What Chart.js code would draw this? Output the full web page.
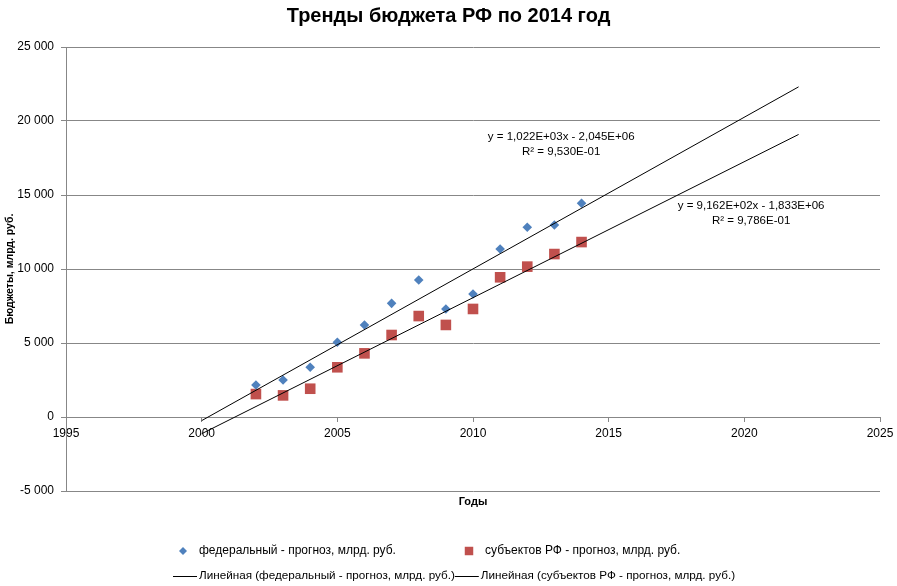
<!DOCTYPE html>
<html lang="ru">
<head>
<meta charset="utf-8">
<title>Тренды бюджета РФ по 2014 год</title>
<script src="https://cdn.jsdelivr.net/npm/chart.js@4/dist/chart.umd.min.js"></script>
<style>
  html, body { margin: 0; padding: 0; background: #fff; }
  #wrap { width: 897px; height: 586px; position: relative; }
</style>
</head>
<body>
<div id="wrap"><canvas id="budget-chart"></canvas></div>
<script>
// ---- data ----
const years = [2002, 2003, 2004, 2005, 2006, 2007, 2008, 2009, 2010, 2011, 2012, 2013, 2014];
const federal = [2160, 2500, 3360, 5050, 6220, 7680, 9260, 7300, 8310, 11350, 12820, 12970, 14440];
const regions = [1550, 1460, 1910, 3360, 4300, 5540, 6820, 6220, 7300, 9440, 10160, 11010, 11820];

const seriesNames = ['федеральный - прогноз, млрд. руб.', 'субъектов РФ - прогноз, млрд. руб.'];
const trendNames = ['Линейная (федеральный - прогноз, млрд. руб.)', 'Линейная (субъектов РФ - прогноз, млрд. руб.)'];

// trendline range (backward / forward forecast like in Excel)
const trendFrom = 2000;
const trendTo = 2022;

// equation labels and where they sit (in data units)
const eqText = [
  ['y = 1,022E+03x - 2,045E+06', 'R\u00B2 = 9,530E-01'],
  ['y = 9,162E+02x - 1,833E+06', 'R\u00B2 = 9,786E-01']
];
const eqAnchorX = [2013.25, 2020.25];
const eqAnchorY = [18920, 14260];

const xTicks = { min: 1995, max: 2025, step: 5 };
const yTicks = { min: -5000, max: 25000, step: 5000 };

const FONT = '"Liberation Sans", Arial, sans-serif';
const GRID = '#878787';

// ============================================
// helpers
// ============================================
function linearFit(xs, ys) {
  const n = xs.length;
  const mx = xs.reduce((a, b) => a + b, 0) / n;
  const my = ys.reduce((a, b) => a + b, 0) / n;
  let sxy = 0, sxx = 0;
  for (let i = 0; i < n; i++) {
    sxy += (xs[i] - mx) * (ys[i] - my);
    sxx += (xs[i] - mx) * (xs[i] - mx);
  }
  const k = sxy / sxx;
  return { k, b: my - k * mx };
}

function trendPoints(ys) {
  const f = linearFit(years, ys);
  return [trendFrom, trendTo].map(x => ({ x, y: f.k * x + f.b }));
}

function toPoints(ys) {
  return years.map((x, i) => ({ x, y: ys[i] }));
}

function fmtThousands(v) {
  const s = String(Math.abs(v)).replace(/\B(?=(\d{3})+(?!\d))/g, ' ');
  return (v < 0 ? '-' : '') + s;
}

// ============================================
// equation labels + excel-like legend
// ============================================
const extrasPlugin = {
  id: 'extras',
  afterDatasetsDraw(chart) {
    const { ctx, scales: { x, y } } = chart;
    ctx.save();
    ctx.font = '11.5px ' + FONT;
    ctx.fillStyle = '#000';
    ctx.textAlign = 'center';
    ctx.textBaseline = 'middle';
    eqText.forEach((lines, i) => {
      const px = x.getPixelForValue(eqAnchorX[i]);
      const py = y.getPixelForValue(eqAnchorY[i]);
      lines.forEach((t, j) => ctx.fillText(t, px, py + j * 15));
    });
    ctx.restore();
  },
  afterDraw(chart) {
    const { ctx } = chart;
    const ds = chart.data.datasets;
    const row1 = 551, row2 = 576;
    ctx.save();
    ctx.font = '12px ' + FONT;
    ctx.fillStyle = '#000';
    ctx.textAlign = 'left';
    ctx.textBaseline = 'middle';

    // markers row
    const markerX = [183, 469];
    const markerR = [4, 6];
    [0, 1].forEach(i => {
      ctx.fillStyle = ds[i].backgroundColor;
      ctx.strokeStyle = ds[i].borderColor;
      Chart.helpers.drawPoint(ctx, {
        pointStyle: ds[i].pointStyle, radius: markerR[i], rotation: 0, borderWidth: 0
      }, markerX[i], row1);
      ctx.fillStyle = '#000';
      ctx.fillText(ds[i].label, markerX[i] + 16, row1);
    });

    // trendline row (a touch tighter, like the original)
    ctx.font = '11.7px ' + FONT;
    let cx = 173;
    [2, 3].forEach(i => {
      ctx.strokeStyle = ds[i].borderColor;
      ctx.lineWidth = 1;
      ctx.beginPath();
      ctx.moveTo(cx, row2 + 0.5);
      ctx.lineTo(cx + 24, row2 + 0.5);
      ctx.stroke();
      ctx.fillText(ds[i].label, cx + 26, row2);
      cx += 26 + ctx.measureText(ds[i].label).width;
    });
    ctx.restore();
  }
};

// ============================================
// chart
// ============================================
Chart.defaults.font.family = FONT;
Chart.defaults.color = '#000';

new Chart(document.getElementById('budget-chart'), {
  type: 'scatter',
  data: {
    datasets: [
      {
        label: seriesNames[0],
        data: toPoints(federal),
        pointStyle: 'rectRot',
        pointRadius: 4.8,
        pointHoverRadius: 5,
        backgroundColor: '#4F81BD',
        borderColor: '#4F81BD',
        borderWidth: 0,
        order: 2
      },
      {
        label: seriesNames[1],
        data: toPoints(regions),
        pointStyle: 'rect',
        pointRadius: 7.5,
        pointHoverRadius: 8,
        backgroundColor: '#C0504D',
        borderColor: '#C0504D',
        borderWidth: 0,
        order: 2
      },
      {
        type: 'line',
        label: trendNames[0],
        data: trendPoints(federal),
        borderColor: '#000',
        borderWidth: 1,
        pointRadius: 0,
        fill: false,
        order: 1
      },
      {
        type: 'line',
        label: trendNames[1],
        data: trendPoints(regions),
        borderColor: '#000',
        borderWidth: 1,
        pointRadius: 0,
        fill: false,
        order: 1
      }
    ]
  },
  options: {
    responsive: true,
    maintainAspectRatio: false,
    animation: false,
    layout: { padding: { top: 0, right: 0, bottom: 71, left: 0 } },
    plugins: {
      legend: { display: false },
      tooltip: { enabled: false },
      title: {
        display: true,
        text: 'Тренды бюджета РФ по 2014 год',
        font: { size: 20, weight: 'bold' },
        color: '#000',
        padding: { top: 4, bottom: 19 }
      }
    },
    scales: {
      x: {
        type: 'linear',
        position: { y: 0 },
        min: xTicks.min,
        max: xTicks.max,
        grid: { drawOnChartArea: false, drawTicks: true, tickLength: 5, color: GRID },
        border: { display: false },
        ticks: {
          stepSize: xTicks.step,
          padding: 4,
          font: { size: 12 },
          color: '#000',
          callback: v => String(v)
        },
        // leave room on the right so the plot ends where the original does
        afterFit: s => { s.paddingRight = 17; }
      },
      x2: {
        type: 'linear',
        position: 'bottom',
        min: xTicks.min,
        max: xTicks.max,
        grid: { display: false },
        border: { display: false },
        ticks: { display: false },
        title: {
          display: true,
          text: 'Годы',
          font: { size: 11, weight: 'bold' },
          color: '#000',
          padding: { top: 0, bottom: 6 }
        },
        afterFit: s => { s.height = 24; }
      },
      y: {
        type: 'linear',
        position: 'left',
        min: yTicks.min,
        max: yTicks.max,
        grid: { color: GRID, lineWidth: 1, drawTicks: true, tickLength: 5 },
        border: { display: true, color: GRID, width: 1 },
        ticks: {
          stepSize: yTicks.step,
          padding: 7,
          font: { size: 12 },
          color: '#000',
          callback: v => fmtThousands(v)
        },
        title: {
          display: true,
          text: 'Бюджеты, млрд. руб.',
          font: { size: 10.5, weight: 'bold' },
          color: '#000',
          padding: { top: 4, bottom: 0 }
        },
        afterFit: s => { s.width = 66; }
      }
    }
  },
  plugins: [extrasPlugin]
});
</script>
</body>
</html>
